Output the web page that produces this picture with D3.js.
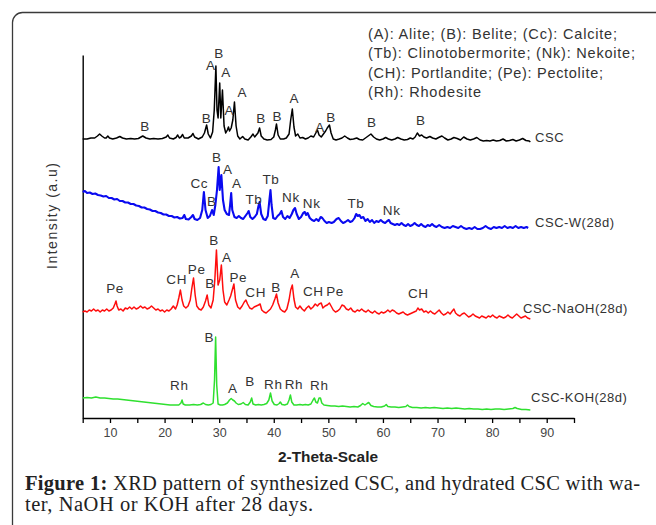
<!DOCTYPE html>
<html><head><meta charset="utf-8">
<script src="https://cdn.jsdelivr.net/npm/d3@7"></script>
<style>
html,body{margin:0;padding:0;background:#fff;}
svg{display:block;}
</style></head>
<body>
<svg id="chart" width="656" height="525"></svg>
<script>
// ---- data (2-theta in degrees, intensity in arbitrary units) ----
const seriesNames = ["CSC", "CSC-W(28d)", "CSC-NaOH(28d)", "CSC-KOH(28d)"];

const cscData = [[5.0,279],[5.8,279],[6.5,280],[7.2,280],[7.7,282],[8.1,284],[8.5,282],[9.0,280],[9.3,280],[9.6,282],[9.9,280],[10.5,279],[11.2,280],[11.8,281.5],[12.3,280],[13.0,279],[13.8,279.5],[14.5,279],[15.2,279.5],[16.0,282],[16.6,280],[17.3,279],[18.0,279.5],[18.8,279],[19.6,279.5],[20.3,281],[20.6,283],[20.9,280],[21.6,279],[22.1,280.5],[22.4,283],[22.7,280],[23.0,281],[23.3,283.5],[23.6,280],[24.3,280],[24.9,282],[25.2,284.5],[25.5,281],[26.2,279],[26.9,281],[27.3,285],[27.7,293],[28.0,284],[28.4,280],[28.8,286],[29.1,308],[29.4,352],[29.6,308],[29.8,300],[30.1,335],[30.3,300],[30.6,328],[30.9,292],[31.2,285],[31.5,288],[31.7,291],[31.9,287],[32.2,290],[32.5,298],[32.8,316],[33.1,292],[33.4,282],[33.8,279],[34.3,281.5],[34.7,279],[35.3,278],[35.8,281],[36.2,284],[36.5,281],[36.8,283],[37.1,285],[37.4,290],[37.7,282],[38.2,279],[38.8,278],[39.5,278.5],[40.0,281],[40.3,288],[40.5,294],[40.8,283],[41.2,279],[41.8,279],[42.3,280],[42.8,284],[43.1,298],[43.4,309],[43.7,291],[44.0,282],[44.4,284],[44.8,280],[45.3,280.5],[45.8,279],[46.3,280],[46.8,282],[47.3,281],[47.7,285],[48.0,288],[48.3,283],[48.7,281],[49.1,284],[49.5,287],[49.8,290],[50.2,293],[50.5,285],[50.9,279],[51.4,278],[52.0,279],[52.5,280],[53.0,282],[53.5,280],[54.0,278.5],[54.6,279],[55.2,280],[55.7,278.5],[56.3,278],[56.8,280],[57.3,282],[57.8,284],[58.3,281],[58.8,279],[59.4,278],[60.0,279],[60.5,280.5],[61.0,279],[61.6,278],[62.2,279],[62.7,280.5],[63.3,279],[63.9,278],[64.5,278.5],[65.0,280],[65.5,279],[65.9,281],[66.3,285],[66.7,282],[67.1,283],[67.5,281],[68.0,280],[68.6,281.5],[69.1,280],[69.7,279],[70.2,280.5],[70.8,282],[71.3,280],[71.9,278],[72.5,279],[73.0,280.5],[73.6,279.5],[74.2,278],[74.8,281],[75.4,279],[76.0,278],[76.6,279],[77.2,280.5],[77.8,278],[78.4,277],[79.0,277.5],[79.6,277],[80.2,278],[80.8,277],[81.4,277.5],[82.0,279],[82.6,277],[83.2,277.5],[83.8,278.5],[84.4,277],[85.0,278],[85.6,279.5],[86.2,277.5],[86.8,277],[87.0,276]];

const cscWData = [[5.0,226],[5.4,227],[5.8,225],[6.3,225.5],[6.8,224],[7.3,224.5],[7.8,223],[8.3,222.5],[8.8,221.5],[9.3,222],[9.8,220],[10.3,220],[10.8,218.5],[11.3,219],[11.8,217],[12.3,217],[12.8,215.5],[13.3,215.5],[13.8,214],[14.3,214],[14.8,212.5],[15.3,212],[15.8,210.5],[16.3,210.5],[16.8,209],[17.3,208.5],[17.8,207],[18.3,207],[18.8,205.5],[19.3,205],[19.8,203.5],[20.3,203.5],[20.8,202],[21.3,202],[21.8,200.5],[22.3,201],[22.8,199.5],[23.3,200],[23.6,203],[23.9,199],[24.4,198.5],[24.9,201],[25.2,203],[25.5,199],[26.0,198],[26.5,200],[26.9,208],[27.2,226],[27.5,208],[27.9,200],[28.3,202],[28.7,208],[29.0,203],[29.3,213],[29.6,228],[29.9,251],[30.1,228],[30.4,243],[30.7,218],[31.0,208],[31.4,204],[31.8,203],[32.0,213],[32.2,225],[32.4,208],[32.8,201],[33.2,200],[33.6,202],[34.0,200],[34.4,199],[34.8,202],[35.2,205],[35.4,207],[35.7,201],[36.1,199],[36.5,201],[36.9,204],[37.2,212],[37.4,216],[37.7,204],[38.1,199],[38.5,198],[38.9,202],[39.2,218],[39.4,228],[39.6,213],[39.9,200],[40.3,199],[40.7,202],[41.1,204],[41.4,207],[41.7,201],[42.1,199],[42.5,202],[42.9,200],[43.3,204],[43.6,208],[43.9,210],[44.2,204],[44.6,199],[45.0,201],[45.4,205],[45.7,206],[45.9,203],[46.2,205],[46.6,200],[47.0,198],[47.4,197],[47.8,199],[48.2,197],[48.6,201],[48.9,200],[49.3,197],[49.7,195],[50.1,196],[50.6,195],[51.0,196],[51.5,199],[51.9,200],[52.3,197],[52.7,195],[53.1,196],[53.6,198],[54.0,196],[54.4,197],[54.8,200],[55.1,204],[55.4,202],[55.7,203],[56.0,200],[56.4,201],[56.8,197],[57.2,199],[57.6,196],[58.0,198],[58.4,195],[58.8,197],[59.2,196],[59.6,198],[60.0,196],[60.4,195],[60.8,197],[61.1,198],[61.4,195],[61.8,194],[62.2,193],[62.6,194],[63.0,193],[63.4,195],[63.8,193],[64.2,192],[64.6,194],[65.0,192],[65.4,193],[65.8,195],[66.2,193],[66.6,192],[67.0,194],[67.4,192],[67.8,191],[68.2,193],[68.6,192],[69.0,194],[69.4,192],[69.8,191],[70.3,193],[70.8,191],[71.3,190],[71.8,191],[72.3,190],[72.8,192],[73.3,191],[73.8,190],[74.3,192],[74.8,190],[75.3,189],[75.8,190],[76.3,189],[76.8,191],[77.3,189],[77.8,189],[78.3,190],[78.8,192],[79.3,190],[79.8,189],[80.3,191],[80.8,190],[81.3,191],[81.8,190],[82.3,192],[82.8,190],[83.3,191],[83.8,190],[84.3,192],[84.8,190],[85.3,191],[85.8,190],[86.3,191],[86.6,190]];

const cscNaOHData = [[5.0,106],[5.4,107],[5.8,106],[6.2,108],[6.6,107],[7.0,109],[7.4,107],[7.8,108],[8.2,106],[8.6,108],[9.0,107],[9.4,109],[9.8,107],[10.2,108],[10.6,110],[10.9,114],[11.1,117],[11.3,112],[11.6,108],[12.0,109],[12.4,107],[12.8,110],[13.2,109],[13.6,111],[14.0,109],[14.4,111],[14.8,109],[15.2,110],[15.6,112],[16.0,110],[16.4,111],[16.8,109],[17.2,110],[17.6,112],[18.0,110],[18.4,108],[18.8,109],[19.2,107],[19.6,108],[20.0,106],[20.4,108],[20.8,107],[21.2,109],[21.6,112],[22.0,109],[22.3,113],[22.6,120],[22.9,128],[23.2,118],[23.5,112],[23.9,110],[24.3,112],[24.7,118],[25.0,130],[25.3,140],[25.6,123],[25.9,112],[26.3,109],[26.7,108],[27.1,111],[27.5,117],[27.8,123],[28.1,113],[28.5,110],[28.9,118],[29.2,138],[29.5,168],[29.8,133],[30.1,138],[30.4,153],[30.7,128],[31.0,116],[31.4,113],[31.8,118],[32.1,122],[32.4,128],[32.7,134],[33.0,118],[33.4,111],[33.8,109],[34.2,112],[34.6,116],[34.9,118],[35.2,114],[35.6,110],[36.0,109],[36.4,111],[36.8,112],[37.2,113],[37.5,114],[37.8,108],[38.2,106],[38.6,105],[39.0,107],[39.4,109],[39.8,113],[40.2,119],[40.5,124],[40.8,115],[41.2,109],[41.6,107],[42.0,106],[42.4,109],[42.8,118],[43.1,128],[43.4,133],[43.7,119],[44.0,111],[44.4,109],[44.8,112],[45.2,109],[45.6,107],[46.0,110],[46.4,112],[46.8,109],[47.2,111],[47.6,114],[48.0,112],[48.3,114],[48.7,115],[49.0,110],[49.4,112],[49.8,113],[50.2,115],[50.5,112],[50.9,108],[51.3,106],[51.7,107],[52.1,109],[52.5,113],[52.9,112],[53.3,109],[53.7,108],[54.1,110],[54.5,107],[54.9,106],[55.3,108],[55.7,107],[56.1,109],[56.5,107],[56.9,106],[57.3,108],[57.7,106],[58.1,105],[58.5,107],[58.9,105],[59.3,104],[59.7,106],[60.1,105],[60.5,106],[60.9,108],[61.3,106],[61.7,108],[62.1,107],[62.5,105],[62.9,104],[63.3,105],[63.7,106],[64.1,104],[64.5,103],[64.9,104],[65.3,105],[65.7,106],[66.1,107],[66.4,110],[66.7,108],[67.1,109],[67.5,106],[67.9,107],[68.3,105],[68.7,107],[69.1,105],[69.5,104],[69.9,106],[70.3,108],[70.7,105],[71.1,103],[71.5,104],[71.9,106],[72.3,104],[72.7,107],[73.0,109],[73.3,105],[73.7,103],[74.1,102],[74.5,104],[74.9,105],[75.3,103],[75.7,101],[76.1,102],[76.5,104],[76.9,102],[77.3,101],[77.7,100],[78.1,102],[78.5,101],[78.9,100],[79.3,102],[79.7,101],[80.1,103],[80.5,101],[80.9,100],[81.3,102],[81.7,101],[82.1,100],[82.5,101],[82.9,103],[83.3,101],[83.7,100],[84.1,102],[84.5,104],[84.9,102],[85.3,100],[85.7,101],[86.1,102],[86.5,100],[87.0,99]];

const cscKOHData = [[5.0,20],[5.8,20.5],[6.6,20],[7.4,21],[8.2,20],[9.0,20],[9.8,19.5],[10.6,19],[11.4,19],[12.2,18.5],[13.0,18],[13.8,17.5],[14.6,17],[15.4,16.5],[16.2,16],[17.0,15.5],[17.8,15],[18.6,14.5],[19.4,14],[20.2,13.5],[21.0,13],[21.8,13],[22.6,13],[23.0,15],[23.2,18],[23.4,14],[23.8,13],[24.6,13],[25.3,13.5],[26.0,13],[26.6,13.5],[27.1,15],[27.5,13.5],[28.0,13],[28.5,13.5],[28.9,15],[29.15,38],[29.35,81],[29.55,33],[29.8,14],[30.2,13],[30.6,13],[31.0,13.5],[31.5,15],[31.9,18],[32.2,19.5],[32.5,18],[32.8,17],[33.1,15],[33.5,13.5],[34.0,14],[34.4,15.5],[34.8,13.5],[35.3,13],[35.7,16],[35.95,20],[36.2,14],[36.7,13],[37.2,13.5],[37.7,13],[38.2,13.5],[38.7,14.5],[39.1,18],[39.4,25],[39.7,17],[40.1,13.5],[40.6,13],[41.0,14.5],[41.2,16],[41.5,13.5],[42.0,13],[42.5,14],[42.8,18],[43.05,23],[43.3,16],[43.7,13],[44.2,13],[44.8,13.5],[45.3,13],[45.8,13.5],[46.3,13],[46.8,14],[47.2,18],[47.45,20],[47.7,16],[48.0,15],[48.3,20],[48.55,20],[48.8,15],[49.2,13],[49.8,12.5],[50.5,12],[51.2,12],[51.9,11.5],[52.6,12],[53.3,11.5],[54.0,11],[54.7,11.5],[55.4,11],[55.9,12.5],[56.3,14.5],[56.7,13],[57.1,14.5],[57.4,15.5],[57.8,12.5],[58.3,11.5],[59.0,11],[59.7,11],[60.3,12],[60.6,13.5],[60.9,11.5],[61.5,11],[62.2,11],[62.9,10.5],[63.6,11],[64.2,11.5],[64.5,13],[64.8,11.5],[65.4,10.5],[66.2,10.5],[67.0,10],[67.8,10.5],[68.6,10],[69.4,10.5],[70.2,10],[71.0,9.5],[71.8,10],[72.6,9.5],[73.4,10],[74.2,9.5],[75.0,9],[75.8,9.5],[76.6,9],[77.4,9],[78.2,8.5],[79.0,9],[79.8,8.5],[80.6,9],[81.4,9],[82.2,8.5],[83.0,9],[83.8,9.5],[84.2,10.5],[84.6,9.5],[85.4,8.5],[86.2,8.5],[87.0,8]];

// peak annotations: [phase, 2-theta, intensity level of label]
const cscPeaks = [["B",16.41,292],["B",27.71,300],["A",28.45,353],["B",29.97,365],["A",31.25,346],["A",31.86,308],["A",34.24,326],["B",37.66,300],["B",40.65,302],["A",43.76,320],["A",48.47,291],["B",50.49,301],["B",57.94,296],["B",66.92,298]];
const cscWPeaks = [["Cc",26.36,234.7],["B",28.63,217],["B",29.55,261.3],["A",31.56,248.7],["A",33.21,235.3],["Tb",36.38,218.7],["Tb",39.49,238.7],["Nk",43.15,220.7],["Nk",46.95,214.7],["Tb",55.06,215.3],["Nk",61.6,208]];
const cscNaOHPeaks = [["Pe",10.92,130.3],["CH",22.22,139],["Pe",25.88,148.7],["B",28.32,134.7],["B",29.05,178],["A",31.38,161.3],["Pe",33.5,141.3],["CH",36.69,126.3],["B",40.41,130.7],["A",43.89,144.7],["CH",47.24,127.3],["Pe",51.22,127.3],["CH",66.48,124.7]];
const cscKOHPeaks = [["Rh",22.7,33],["B",28.19,80.7],["A",32.48,30.3],["B",35.65,37],["Rh",39.92,33.7],["Rh",43.71,33.7],["Rh",48.34,33]];

// series name label anchors: [2-theta, intensity]
const seriesLabelPos = [[87.87,281],[87.87,196],[85.67,110],[87.14,21]];

const legendLines = ["(A): Alite; (B): Belite; (Cc): Calcite;","(Tb): Clinotobermorite; (Nk): Nekoite;","(CH): Portlandite; (Pe): Pectolite;","(Rh): Rhodesite"];
const xTickValues = [5,10,15,20,25,30,35,40,45,50,55,60,65,70,75,80,85,90,95];
const xLabelValues = [10,20,30,40,50,60,70,80,90];
const xTitle = "2-Theta-Scale";
const yTitle = "Intensity (a.u)";
const captionBold = "Figure 1:";
const captionRest = " XRD pattern of synthesized CSC, and hydrated CSC with wa-";
const captionLine2 = "ter, NaOH or KOH after 28 days.";

// ---- styles ----
const colors = ["#000000","#0a0af0","#ff0d0d","#2fe02f"];
const widths = [1.5,2.1,1.5,1.5];
const sans = "'Liberation Sans', Arial, sans-serif";

const svg = d3.select("#chart");

// outer rounded frame
svg.append("rect").attr("x",12.5).attr("y",12.5).attr("width",700).attr("height",540)
  .attr("rx",10).attr("fill","none").attr("stroke","#3a3a3a").attr("stroke-width",1.3);

const x = d3.scaleLinear().domain([5,95]).range([82.7,574]);
const y = d3.scaleLinear().domain([0,363]).range([418,55]);

// axes
const xAxis = d3.axisBottom(x).tickValues(xTickValues)
  .tickFormat(d => xLabelValues.includes(d) ? d : "").tickSize(5).tickSizeOuter(0);
const gx = svg.append("g").attr("transform",`translate(0,${y(0)})`).call(xAxis);
gx.select(".domain").attr("stroke","#000").attr("stroke-width",1.4);
gx.selectAll(".tick line").attr("stroke","#000").attr("stroke-width",1.3);
gx.selectAll(".tick text").attr("font-family",sans).attr("font-size",12.5)
  .attr("fill","#444").attr("dy","0.9em");

const yAxis = d3.axisLeft(y).tickValues([]).tickSizeOuter(0);
const gy = svg.append("g").attr("transform",`translate(${x(5)},0)`).call(yAxis);
gy.select(".domain").attr("stroke","#000").attr("stroke-width",1.4);

// titles
svg.append("text").attr("x",328).attr("y",457).attr("dy","0.35em")
  .attr("text-anchor","middle").attr("font-family",sans).attr("font-size",14)
  .attr("font-weight","bold").attr("fill","#222").attr("textLength",100)
  .attr("lengthAdjust","spacingAndGlyphs").text(xTitle);

svg.append("text").attr("transform","translate(52,216) rotate(-90)").attr("dy","0.35em")
  .attr("text-anchor","middle").attr("font-family",sans).attr("font-size",14)
  .attr("fill","#333").attr("textLength",106).attr("lengthAdjust","spacing").text(yTitle);

// lines
const line = d3.line().x(d => x(d[0])).y(d => y(d[1]));
const allData = [cscData, cscWData, cscNaOHData, cscKOHData];
allData.forEach((data,i) => {
  svg.append("path").datum(data).attr("d",line).attr("fill","none")
    .attr("stroke",colors[i]).attr("stroke-width",widths[i])
    .attr("stroke-linejoin","round");
});

// peak labels
const allPeaks = [cscPeaks, cscWPeaks, cscNaOHPeaks, cscKOHPeaks];
allPeaks.forEach(peaks => {
  svg.append("g").selectAll("text").data(peaks).join("text")
    .attr("x",d => x(d[1])).attr("y",d => y(d[2])).attr("dy","0.36em")
    .attr("text-anchor","middle").attr("font-family",sans).attr("font-size",13.5)
    .attr("letter-spacing",0.6).attr("fill","#333").text(d => d[0]);
});

// series labels
seriesNames.forEach((name,i) => {
  svg.append("text").attr("x",x(seriesLabelPos[i][0])).attr("y",y(seriesLabelPos[i][1]))
    .attr("dy","0.36em").attr("font-family",sans).attr("font-size",13)
    .attr("letter-spacing",0.5).attr("fill","#333").text(name);
});

// legend text
const legendWidths = [249,267,235,113];
legendLines.forEach((t,i) => {
  svg.append("text").attr("x",368).attr("y",33.3 + i*19.5).attr("dy","0.36em")
    .attr("font-family",sans).attr("font-size",14.5).attr("fill","#333")
    .attr("textLength",legendWidths[i]).attr("lengthAdjust","spacing").text(t);
});

// caption
const serif = "'Liberation Serif','Times New Roman',serif";
const cap = svg.append("text").attr("x",25).attr("y",490).attr("font-family",serif)
  .attr("font-size",20.5).attr("fill","#222").attr("textLength",615).attr("lengthAdjust","spacing");
cap.append("tspan").attr("font-weight","bold").text(captionBold);
cap.append("tspan").text(captionRest);
svg.append("text").attr("x",25).attr("y",511).attr("font-family",serif)
  .attr("font-size",20.5).attr("fill","#222").attr("textLength",288)
  .attr("lengthAdjust","spacing").text(captionLine2);
</script>
</body></html>
